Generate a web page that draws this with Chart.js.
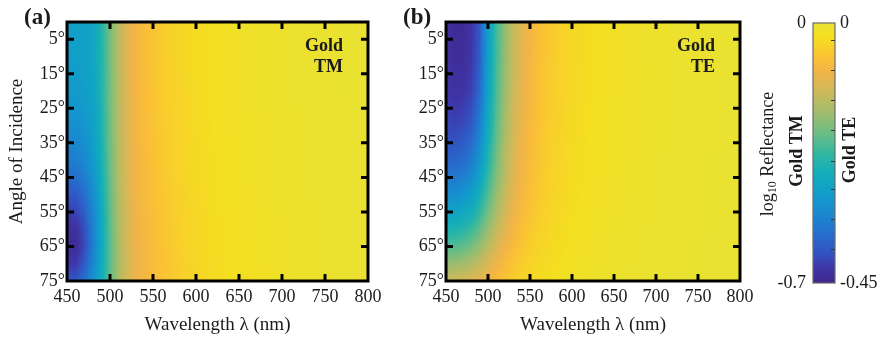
<!DOCTYPE html>
<html>
<head>
<meta charset="utf-8">
<script src="https://cdn.jsdelivr.net/npm/chart.js@4.4.1/dist/chart.umd.min.js"></script>
<style>
  body { margin: 0; background: #fff; }
  #wrap { position: relative; width: 879px; height: 337px; overflow: hidden; }
  canvas { position: absolute; top: 0; }
</style>
</head>
<body>
<div id="wrap">
  <canvas id="tm" width="388" height="337" style="left:0"></canvas>
  <canvas id="te" width="380" height="337" style="left:380px"></canvas>
  <canvas id="cbar" width="139" height="337" style="left:740px"></canvas>
</div>
<script>
// grid of the reflectance maps: columns = wavelength (nm), rows = angle of incidence (deg)
const wavelengths = [450, 460, 470, 480, 490, 500, 510, 520, 530, 540, 550, 560, 575, 600, 625, 650, 700, 750, 800];
const angles = [0, 10, 20, 30, 40, 45, 50, 55, 60, 65, 70, 75];
const angleTicks = [5, 15, 25, 35, 45, 55, 65, 75];

// log10 reflectance, gold, TM polarisation
const reflTM = [
  [-0.450, -0.452, -0.448, -0.432, -0.375, -0.285, -0.212, -0.157, -0.122, -0.103, -0.089, -0.076, -0.060, -0.042, -0.030, -0.022, -0.013, -0.007, -0.003],
  [-0.452, -0.454, -0.450, -0.433, -0.376, -0.286, -0.212, -0.157, -0.122, -0.103, -0.089, -0.076, -0.060, -0.042, -0.030, -0.022, -0.013, -0.007, -0.003],
  [-0.465, -0.466, -0.458, -0.438, -0.378, -0.287, -0.213, -0.158, -0.123, -0.104, -0.090, -0.077, -0.061, -0.043, -0.031, -0.023, -0.013, -0.007, -0.003],
  [-0.495, -0.492, -0.478, -0.450, -0.384, -0.290, -0.215, -0.160, -0.125, -0.106, -0.092, -0.079, -0.063, -0.044, -0.032, -0.024, -0.014, -0.008, -0.004],
  [-0.540, -0.535, -0.512, -0.470, -0.394, -0.294, -0.218, -0.163, -0.128, -0.109, -0.095, -0.082, -0.065, -0.046, -0.034, -0.025, -0.015, -0.008, -0.004],
  [-0.575, -0.568, -0.540, -0.486, -0.402, -0.298, -0.220, -0.165, -0.130, -0.111, -0.097, -0.084, -0.067, -0.047, -0.035, -0.026, -0.015, -0.009, -0.004],
  [-0.612, -0.605, -0.570, -0.505, -0.412, -0.302, -0.223, -0.167, -0.132, -0.113, -0.099, -0.086, -0.069, -0.049, -0.036, -0.027, -0.016, -0.009, -0.005],
  [-0.648, -0.642, -0.600, -0.522, -0.420, -0.306, -0.226, -0.170, -0.134, -0.115, -0.101, -0.088, -0.071, -0.050, -0.037, -0.028, -0.017, -0.010, -0.005],
  [-0.672, -0.675, -0.625, -0.535, -0.426, -0.310, -0.229, -0.172, -0.136, -0.117, -0.103, -0.090, -0.073, -0.052, -0.038, -0.029, -0.018, -0.010, -0.005],
  [-0.680, -0.688, -0.632, -0.538, -0.428, -0.312, -0.231, -0.174, -0.138, -0.119, -0.105, -0.092, -0.075, -0.053, -0.039, -0.030, -0.018, -0.011, -0.006],
  [-0.655, -0.660, -0.605, -0.520, -0.420, -0.310, -0.231, -0.175, -0.139, -0.120, -0.106, -0.093, -0.076, -0.054, -0.040, -0.031, -0.019, -0.011, -0.006],
  [-0.610, -0.612, -0.565, -0.495, -0.408, -0.305, -0.229, -0.174, -0.139, -0.120, -0.106, -0.094, -0.077, -0.055, -0.041, -0.031, -0.019, -0.011, -0.006]
];

// log10 reflectance, gold, TE polarisation
const reflTE = [
  [-0.432, -0.440, -0.440, -0.428, -0.390, -0.295, -0.218, -0.166, -0.126, -0.100, -0.080, -0.065, -0.050, -0.033, -0.023, -0.017, -0.009, -0.005, -0.002],
  [-0.430, -0.438, -0.438, -0.425, -0.386, -0.292, -0.216, -0.164, -0.125, -0.099, -0.079, -0.064, -0.049, -0.033, -0.023, -0.017, -0.009, -0.005, -0.002],
  [-0.424, -0.430, -0.428, -0.414, -0.372, -0.282, -0.210, -0.160, -0.121, -0.096, -0.077, -0.062, -0.047, -0.032, -0.022, -0.016, -0.009, -0.005, -0.002],
  [-0.408, -0.412, -0.406, -0.390, -0.346, -0.266, -0.200, -0.152, -0.115, -0.091, -0.073, -0.059, -0.045, -0.030, -0.021, -0.015, -0.008, -0.005, -0.002],
  [-0.375, -0.378, -0.370, -0.350, -0.308, -0.242, -0.185, -0.141, -0.107, -0.085, -0.069, -0.056, -0.042, -0.028, -0.020, -0.014, -0.008, -0.004, -0.002],
  [-0.350, -0.352, -0.343, -0.323, -0.284, -0.226, -0.175, -0.135, -0.103, -0.082, -0.066, -0.054, -0.041, -0.027, -0.019, -0.014, -0.008, -0.004, -0.002],
  [-0.318, -0.318, -0.309, -0.291, -0.256, -0.207, -0.162, -0.126, -0.097, -0.077, -0.062, -0.051, -0.039, -0.026, -0.018, -0.013, -0.007, -0.004, -0.002],
  [-0.284, -0.284, -0.275, -0.258, -0.228, -0.186, -0.147, -0.115, -0.089, -0.071, -0.058, -0.048, -0.036, -0.024, -0.017, -0.012, -0.007, -0.004, -0.002],
  [-0.247, -0.246, -0.237, -0.222, -0.196, -0.161, -0.128, -0.101, -0.080, -0.064, -0.052, -0.043, -0.033, -0.022, -0.016, -0.011, -0.006, -0.004, -0.002],
  [-0.207, -0.205, -0.197, -0.184, -0.163, -0.135, -0.108, -0.086, -0.069, -0.056, -0.046, -0.038, -0.029, -0.020, -0.014, -0.010, -0.006, -0.003, -0.001],
  [-0.162, -0.160, -0.153, -0.143, -0.127, -0.106, -0.087, -0.070, -0.057, -0.047, -0.039, -0.033, -0.026, -0.018, -0.013, -0.009, -0.005, -0.003, -0.001],
  [-0.118, -0.116, -0.111, -0.104, -0.094, -0.081, -0.068, -0.056, -0.046, -0.039, -0.033, -0.028, -0.022, -0.016, -0.011, -0.008, -0.005, -0.003, -0.001]
];

const rangeTM = [-0.7, 0];
const rangeTE = [-0.45, 0];
const cbarMinorTE = [-0.03, -0.082, -0.134, -0.186, -0.238, -0.288, -0.34, -0.392];

// parula-like colour stops (t, r, g, b), blues a little muted
const STOPS = [
  [0.000, 64, 38, 140], [0.063, 62, 56, 170], [0.111, 52, 80, 192], [0.175, 40, 106, 204],
  [0.238, 30, 127, 206], [0.302, 22, 146, 206], [0.365, 16, 162, 198], [0.429, 20, 174, 184],
  [0.492, 48, 182, 163], [0.556, 92, 188, 140], [0.619, 137, 189, 118], [0.683, 176, 188, 102],
  [0.746, 210, 184, 88], [0.810, 240, 180, 72], [0.857, 250, 190, 56], [0.905, 248, 208, 42],
  [0.952, 244, 223, 32], [1.000, 232, 226, 52]
];

function parula(t) {
  t = Math.min(Math.max(t, 0), 1);
  let k = 0;
  while (k < STOPS.length - 2 && t > STOPS[k + 1][0]) k++;
  const a = STOPS[k], b = STOPS[k + 1];
  const f = (t - a[0]) / (b[0] - a[0]);
  return [0, 1, 2].map(c => Math.round(a[c + 1] + (b[c + 1] - a[c + 1]) * f));
}

function locate(arr, v) {
  let i = 0;
  while (i < arr.length - 2 && v > arr[i + 1]) i++;
  const f = (v - arr[i]) / (arr[i + 1] - arr[i]);
  return [i, Math.min(Math.max(f, 0), 1)];
}

function sample(grid, wl, ang) {
  const [i, fx] = locate(wavelengths, wl);
  const [j, fy] = locate(angles, ang);
  const top = grid[j][i] + (grid[j][i + 1] - grid[j][i]) * fx;
  const bot = grid[j + 1][i] + (grid[j + 1][i + 1] - grid[j + 1][i]) * fx;
  return top + (bot - top) * fy;
}

const SERIF = "'Liberation Serif', 'DejaVu Serif', serif";
const INK = '#1b1b1b';

const heatmap = {
  id: 'heatmap',
  beforeDatasetsDraw(chart, args, opts) {
    const { ctx, chartArea: a, scales: { x, y } } = chart;
    const w = Math.round(a.right - a.left), h = Math.round(a.bottom - a.top);
    const off = document.createElement('canvas');
    off.width = w; off.height = h;
    const octx = off.getContext('2d');
    const img = octx.createImageData(w, h);
    const [lo, hi] = opts.range;
    for (let j = 0; j < h; j++) {
      const ang = y.getValueForPixel(a.top + j + 0.5);
      for (let i = 0; i < w; i++) {
        const wl = x.getValueForPixel(a.left + i + 0.5);
        const c = parula((sample(opts.grid, wl, ang) - lo) / (hi - lo));
        const p = (j * w + i) * 4;
        img.data[p] = c[0]; img.data[p + 1] = c[1]; img.data[p + 2] = c[2]; img.data[p + 3] = 255;
      }
    }
    octx.putImageData(img, 0, 0);
    ctx.drawImage(off, a.left, a.top);
  },
  afterDraw(chart, args, opts) {
    const { ctx, chartArea: a, scales: { x, y } } = chart;
    ctx.save();
    ctx.strokeStyle = '#000';
    ctx.lineWidth = 3;
    const len = 7;
    ctx.beginPath();
    x.ticks.forEach(t => {
      if (t.value <= x.min || t.value >= x.max) return;
      const px = x.getPixelForValue(t.value);
      ctx.moveTo(px, a.bottom); ctx.lineTo(px, a.bottom - len);
      ctx.moveTo(px, a.top); ctx.lineTo(px, a.top + len);
    });
    y.ticks.forEach(t => {
      if (t.value <= y.min || t.value >= y.max) return;
      const py = y.getPixelForValue(t.value);
      ctx.moveTo(a.left, py); ctx.lineTo(a.left + len, py);
      ctx.moveTo(a.right, py); ctx.lineTo(a.right - len, py);
    });
    ctx.stroke();
    ctx.strokeRect(a.left, a.top, a.right - a.left, a.bottom - a.top);

    ctx.fillStyle = INK;
    ctx.font = `bold 18px ${SERIF}`;
    ctx.textAlign = 'right';
    ctx.textBaseline = 'alphabetic';
    ctx.fillText('Gold', a.right - 25, a.top + 29);
    ctx.fillText(opts.pol, a.right - 25, a.top + 50);

    ctx.font = `bold 23px ${SERIF}`;
    ctx.textAlign = 'left';
    ctx.textBaseline = 'middle';
    ctx.fillText(opts.letter, a.left - 43, 18);
    ctx.restore();
  }
};

function panel(id, grid, range, pol, letter, yWidth, padRight) {
  return new Chart(document.getElementById(id), {
    type: 'scatter',
    data: { datasets: [] },
    plugins: [heatmap],
    options: {
      responsive: false,
      animation: false,
      devicePixelRatio: 1,
      layout: { padding: { top: 22, right: padRight, left: 0, bottom: 0 } },
      plugins: {
        legend: { display: false },
        tooltip: { enabled: false },
        heatmap: { grid, range, pol, letter }
      },
      scales: {
        x: {
          type: 'linear', min: 450, max: 800,
          grid: { display: false, drawTicks: false },
          border: { display: false },
          ticks: { stepSize: 50, padding: 5, color: INK, font: { family: SERIF, size: 18 } },
          title: { display: true, text: 'Wavelength λ (nm)', color: INK,
                   font: { family: SERIF, size: 19, lineHeight: 1.2 }, padding: { top: 0, bottom: 1 } },
          afterFit: s => { s.height = 56; }
        },
        y: {
          type: 'linear', min: 0, max: 75, reverse: true,
          grid: { display: false, drawTicks: false },
          border: { display: false },
          afterBuildTicks: s => { s.ticks = angleTicks.map(v => ({ value: v })); },
          ticks: { padding: 2, color: INK, font: { family: SERIF, size: 18 }, callback: v => v + '°' },
          title: { display: letter === '(a)', text: 'Angle of Incidence', color: INK,
                   font: { family: SERIF, size: 19, lineHeight: 1.2 }, padding: { top: 6, bottom: 0 } },
          afterFit: s => { s.width = yWidth; }
        }
      }
    }
  });
}

panel('tm', reflTM, rangeTM, 'TM', '(a)', 67, 20);
panel('te', reflTE, rangeTE, 'TE', '(b)', 66, 20);

// shared colour bar: TM scale on the left, TE scale on the right
const colorbar = {
  id: 'colorbar',
  beforeDatasetsDraw(chart) {
    const { ctx, chartArea: a, scales: { tm } } = chart;
    for (let py = Math.floor(a.top); py < a.bottom; py++) {
      const v = tm.getValueForPixel(py + 0.5);
      const c = parula((v - rangeTM[0]) / (rangeTM[1] - rangeTM[0]));
      ctx.fillStyle = `rgb(${c[0]},${c[1]},${c[2]})`;
      ctx.fillRect(a.left, py, a.right - a.left, 1);
    }
  },
  afterDraw(chart) {
    const { ctx, chartArea: a, scales: { te } } = chart;
    ctx.save();
    ctx.strokeStyle = '#6b6b6b';
    ctx.lineWidth = 1.2;
    ctx.strokeRect(a.left, a.top, a.right - a.left, a.bottom - a.top);
    ctx.strokeStyle = '#3a3a3a';
    ctx.lineWidth = 1;
    ctx.beginPath();
    cbarMinorTE.forEach(v => {
      const py = Math.round(te.getPixelForValue(v)) + 0.5;
      ctx.moveTo(a.right - 4, py); ctx.lineTo(a.right, py);
    });
    ctx.stroke();

    ctx.fillStyle = INK;
    ctx.textBaseline = 'middle';
    const rot = (x, y, fn) => { ctx.save(); ctx.translate(x, y); ctx.rotate(-Math.PI / 2); fn(); ctx.restore(); };

    rot(28, 154, () => {
      const big = `18px ${SERIF}`, small = `12px ${SERIF}`;
      ctx.font = big; const w1 = ctx.measureText('log').width; const w3 = ctx.measureText(' Reflectance').width;
      ctx.font = small; const w2 = ctx.measureText('10').width;
      let x0 = -(w1 + w2 + w3) / 2;
      ctx.textAlign = 'left';
      ctx.font = big; ctx.fillText('log', x0, 0);
      ctx.font = small; ctx.fillText('10', x0 + w1, 5);
      ctx.font = big; ctx.fillText(' Reflectance', x0 + w1 + w2, 0);
    });
    ctx.font = `bold 18px ${SERIF}`;
    ctx.textAlign = 'center';
    rot(57, 151, () => ctx.fillText('Gold TM', 0, 0));
    rot(110, 150, () => ctx.fillText('Gold TE', 0, 0));
    ctx.restore();
  }
};

new Chart(document.getElementById('cbar'), {
  type: 'scatter',
  data: { datasets: [] },
  plugins: [colorbar],
  options: {
    responsive: false,
    animation: false,
    devicePixelRatio: 1,
    layout: { padding: { top: 23, bottom: 54, left: 0, right: 0 } },
    plugins: { legend: { display: false }, tooltip: { enabled: false } },
    scales: {
      x: { type: 'linear', display: false, min: 0, max: 1 },
      tm: {
        type: 'linear', axis: 'y', position: 'left', min: rangeTM[0], max: rangeTM[1],
        grid: { display: false, drawTicks: false }, border: { display: false },
        afterBuildTicks: s => { s.ticks = rangeTM.map(v => ({ value: v })); },
        ticks: { padding: 7, color: INK, font: { family: SERIF, size: 18 }, callback: v => String(v) },
        afterFit: s => { s.width = 73; }
      },
      te: {
        type: 'linear', axis: 'y', position: 'right', min: rangeTE[0], max: rangeTE[1],
        grid: { display: false, drawTicks: false }, border: { display: false },
        afterBuildTicks: s => { s.ticks = rangeTE.map(v => ({ value: v })); },
        ticks: { padding: 5, color: INK, font: { family: SERIF, size: 18 }, callback: v => String(v) },
        afterFit: s => { s.width = 44; }
      }
    }
  }
});
</script>
</body>
</html>
